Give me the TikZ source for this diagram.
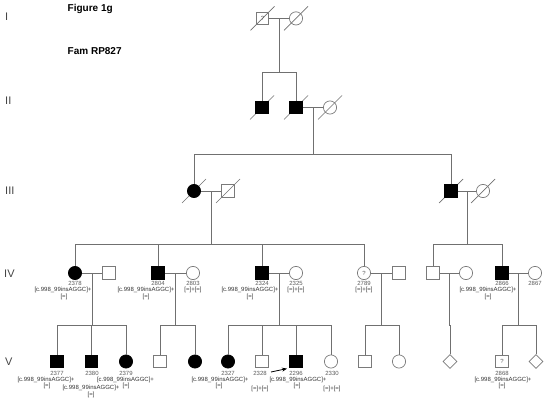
\documentclass[tikz,border=0pt]{standalone}
\usepackage{fontspec}
\setmainfont{Liberation Sans}
\usetikzlibrary{shapes.geometric,calc,arrows.meta}
\definecolor{lc}{HTML}{707070}
\definecolor{oc}{HTML}{7A7A7A}
\definecolor{tc}{HTML}{333333}
\definecolor{numc}{HTML}{5A5A5A}
\definecolor{genc}{HTML}{444444}
\pgfdeclarelayer{bg}
\pgfsetlayers{bg,main}
\newcommand\deceased[1]{\begin{pgfonlayer}{bg}\draw[ln] ([shift={(-12,12)}]#1.center) -- ([shift={(12,-12)}]#1.center);\end{pgfonlayer}}
\newcommand\kids[3]{\foreach \c in {#3}{\draw[ln] (#1) -- (#1 |- #2) -| (\c.north);}}
\begin{document}
\begin{tikzpicture}[x=1pt,y=-1pt,
 ln/.style={draw=lc,line width=0.7pt},
 sq/.style={rectangle,draw=oc,line width=0.7pt,minimum size=12.5pt,inner sep=0pt,font=\fontsize{6}{6}\selectfont,text=numc},
 sqa/.style={sq,draw=black,fill=black},
 ci/.style={circle,draw=oc,line width=0.7pt,minimum size=13.2pt,inner sep=0pt,font=\fontsize{6}{6}\selectfont,text=numc},
 cia/.style={ci,draw=black,fill=black},
 dia/.style={diamond,draw=oc,line width=0.7pt,minimum size=14pt,inner sep=0pt},
 num/.style={font=\fontsize{6}{6}\selectfont,text=numc,inner sep=0pt},
 mut/.style={font=\fontsize{6}{6}\selectfont,text=tc,inner sep=0pt},
 gen/.style={font=\fontsize{11}{11}\selectfont,text=genc,inner sep=0pt,anchor=west},
 ttl/.style={font=\bfseries\fontsize{10}{10}\selectfont,inner sep=0pt,anchor=west},
 arr/.style={-{Stealth[length=5pt,width=4pt]},line width=0.8pt,draw=black}
]
\useasboundingbox (0,0) rectangle (549,404);
% titles and generation numerals
\node[ttl] (t1) at (67.5,8.5) {Figure 1g};
\node[ttl] (t2) at (67.5,51) {Fam RP827};
\node[gen] (g1) at (5,17) {I};
\node[gen] (g2) at (5,100.5) {II};
\node[gen] (g3) at (5,190.5) {III};
\node[gen] (g4) at (4,274) {IV};
\node[gen] (g5) at (5,361.5) {V};
% generation I
\node[sq] (I1) at (262.5,18.4) {?};
\node[ci] (I2) at (296,18.4) {};
% generation II
\node[sqa] (II1) at (262,107.5) {};
\node[sqa] (II2) at (296,107.5) {};
\node[ci] (II3) at (330,107.5) {};
% generation III
\node[cia] (III1) at (194,191) {};
\node[sq] (III2) at (228,191) {};
\node[sqa] (III3) at (451,191) {};
\node[ci] (III4) at (483,191) {};
% generation IV
\node[cia] (p2378) at (75,273) {};
\node[sq] (s2378) at (109,273) {};
\node[sqa] (p2804) at (158,273) {};
\node[ci] (p2803) at (193,273) {};
\node[sqa] (p2324) at (262,273) {};
\node[ci] (p2325) at (296,273) {};
\node[ci] (p2789) at (364,273) {?};
\node[sq] (s2789) at (399,273) {};
\node[sq] (r1) at (433,273) {};
\node[ci] (r2) at (466,273) {};
\node[sqa] (p2866) at (502,273) {};
\node[ci] (p2867) at (535,273) {};
% generation V
\node[sqa] (p2377) at (57,361.5) {};
\node[sqa] (p2380) at (91.5,361.5) {};
\node[cia] (p2379) at (126,361.5) {};
\node[sq] (v4) at (160,361.5) {};
\node[cia] (v5) at (195,361.5) {};
\node[cia] (p2327) at (228,361.5) {};
\node[sq] (p2328) at (262,361.5) {};
\node[sqa] (p2296) at (296,361.5) {};
\node[ci] (p2330) at (331,361.5) {};
\node[sq] (v10) at (365,361.5) {};
\node[ci] (v11) at (399,361.5) {};
\node[dia] (v12) at (450,361.5) {};
\node[sq] (p2868) at (502,361.5) {?};
\node[dia] (v14) at (536,361.5) {};
% deceased marks
\deceased{I1}\deceased{I2}
\deceased{II1}\deceased{II2}\deceased{II3}
\deceased{III1}\deceased{III2}\deceased{III3}\deceased{III4}
% marriage lines
\draw[ln] (I1) -- (I2);
\draw[ln] (II2) -- (II3);
\draw[ln] (III1) -- (III2);
\draw[ln] (III3) -- (III4);
\draw[ln] (p2378) -- (s2378);
\draw[ln] (p2804) -- (p2803);
\draw[ln] (p2324) -- (p2325);
\draw[ln] (p2789) -- (s2789);
\draw[ln] (r1) -- (r2);
\draw[ln] (p2866) -- (p2867);
% couple midpoints and sibship levels
\coordinate (mI) at ($(I1)!0.5!(I2)$);
\coordinate (mII) at ($(II2)!0.5!(II3)$);
\coordinate (mIIIL) at ($(III1)!0.5!(III2)$);
\coordinate (mIIIR) at ($(III3)!0.5!(III4)$);
\coordinate (ma) at ($(p2378)!0.5!(s2378)$);
\coordinate (mb) at ($(p2804)!0.5!(p2803)$);
\coordinate (mc) at ($(p2324)!0.5!(p2325)$);
\coordinate (md) at ($(p2789)!0.5!(s2789)$);
\coordinate (me) at ($(r1)!0.5!(r2)$);
\coordinate (mf) at ($(p2866)!0.5!(p2867)$);
\coordinate (sII) at (0,72);
\coordinate (sIII) at (0,154);
\coordinate (sIV) at (0,244);
\coordinate (sV) at (0,325);
% descent lines
\kids{mI}{sII}{II1,II2}
\kids{mII}{sIII}{III1,III3}
\kids{mIIIL}{sIV}{p2378,p2804,p2324,p2789}
\kids{mIIIR}{sIV}{r1,p2866}
\kids{ma}{sV}{p2377,p2380,p2379}
\kids{mb}{sV}{v4,v5}
\kids{mc}{sV}{p2327,p2328,p2296,p2330}
\kids{md}{sV}{v10,v11}
\kids{me}{sV}{v12}
\kids{mf}{sV}{p2868,v14}
% labels generation IV
\node[num] (n2378) at (75,283.5) {2378};
\node[mut] (a2378) at (63,290) {[c.998\_99insAGGC]+};
\node[mut] (b2378) at (64,296.5) {[=]};
\node[num] (n2804) at (158,283.5) {2804};
\node[mut] (a2804) at (146,290) {[c.998\_99insAGGC]+};
\node[mut] (b2804) at (146,296.5) {[=]};
\node[num] (n2803) at (193,283.5) {2803};
\node[mut] (a2803) at (193,290) {[=]+[=]};
\node[num] (n2324) at (262,283.5) {2324};
\node[mut] (a2324) at (250,290) {[c.998\_99insAGGC]+};
\node[mut] (b2324) at (250,296.5) {[=]};
\node[num] (n2325) at (296,283.5) {2325};
\node[mut] (a2325) at (296,290) {[=]+[=]};
\node[num] (n2789) at (364,283.5) {2789};
\node[mut] (a2789) at (364,290) {[=]+[=]};
\node[num] (n2866) at (502,283.5) {2866};
\node[mut] (a2866) at (488,290) {[c.998\_99insAGGC]+};
\node[mut] (b2866) at (488,296.5) {[=]};
\node[num] (n2867) at (535,283.5) {2867};
% labels generation V
\node[num] (n2377) at (57,373) {2377};
\node[mut] (a2377) at (46,379.5) {[c.998\_99insAGGC]+};
\node[mut] (b2377) at (47,386) {[=]};
\node[num] (n2380) at (92,373) {2380};
\node[mut] (a2380) at (91,388) {[c.998\_99insAGGC]+};
\node[mut] (b2380) at (91,394.5) {[=]};
\node[num] (n2379) at (126,373) {2379};
\node[mut] (a2379) at (125.5,379.5) {[c.998\_99insAGGC]+};
\node[mut] (b2379) at (126,386) {[=]};
\node[num] (n2327) at (228,373) {2327};
\node[mut] (a2327) at (220,379.5) {[c.998\_99insAGGC]+};
\node[mut] (b2327) at (219,386) {[=]};
\node[num] (n2328) at (260,373) {2328};
\node[mut] (a2328) at (260,388.5) {[=]+[=]};
\node[num] (n2296) at (296,373) {2296};
\node[mut] (a2296) at (298,379.5) {[c.998\_99insAGGC]+};
\node[mut] (b2296) at (297,386) {[=]};
\node[num] (n2330) at (332,373) {2330};
\node[mut] (a2330) at (332,388.5) {[=]+[=]};
\node[num] (n2868) at (502,373) {2868};
\node[mut] (a2868) at (503,379.5) {[c.998\_99insAGGC]+};
\node[mut] (b2868) at (502,386) {[=]};
% proband arrow
\coordinate (arrs) at (271,372);
\draw[arr,shorten >=2.5pt] (arrs) -- (p2296.south west);
\end{tikzpicture}
\end{document}
